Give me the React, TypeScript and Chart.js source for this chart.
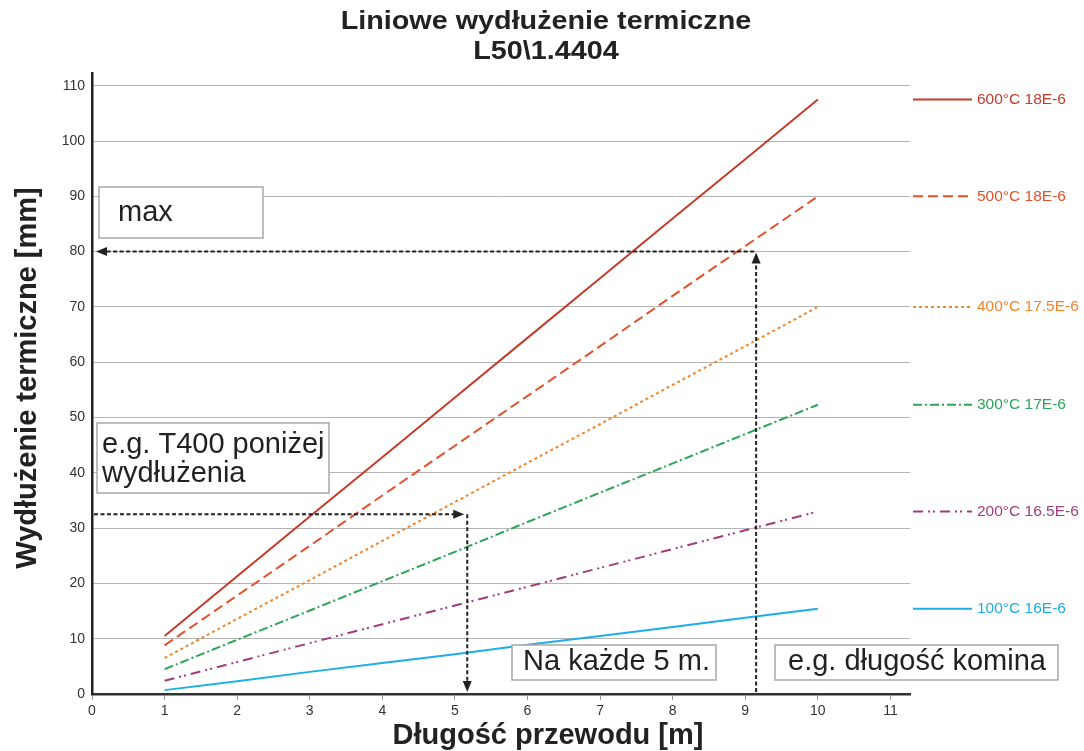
import React, { useEffect, useRef } from "react";
import { Chart, registerables } from "chart.js";

Chart.register(...registerables);

const titleLines = ["Liniowe wydłużenie termiczne", "L50\\1.4404"];
const xTitle = "Długość przewodu [m]";
const yTitle = "Wydłużenie termiczne [mm]";

const xTickValues = [0, 1, 2, 3, 4, 5, 6, 7, 8, 9, 10, 11];
const yTickValues = [0, 10, 20, 30, 40, 50, 60, 70, 80, 90, 100, 110];

const lengths = [1, 2, 3, 4, 5, 6, 7, 8, 9, 10];

const series600 = [10.5, 21.3, 32.1, 42.8, 53.6, 64.4, 75.2, 86.0, 96.7, 107.5];
const series500 = [8.8, 17.8, 26.8, 35.9, 44.9, 53.9, 62.9, 72.0, 81.0, 90.0];
const series400 = [6.5, 13.6, 20.6, 27.7, 34.7, 41.8, 48.8, 55.9, 62.9, 70.0];
const series300 = [4.5, 9.8, 15.1, 20.4, 25.7, 31.1, 36.4, 41.7, 47.0, 52.3];
const series200 = [2.4, 5.8, 9.2, 12.6, 16.0, 19.4, 22.8, 26.2, 29.6, 33.0];
const series100 = [0.7, 2.3, 4.0, 5.6, 7.2, 8.9, 10.5, 12.1, 13.8, 15.4];

const seriesLabels = [
  "600°C 18E-6",
  "500°C 18E-6",
  "400°C 17.5E-6",
  "300°C 17E-6",
  "200°C 16.5E-6",
  "100°C 16E-6",
];
const seriesValues = [series600, series500, series400, series300, series200, series100];
const seriesColors = ["#c43b2a", "#e2512b", "#f0862c", "#2ea456", "#a23d7c", "#1eaee6"];
const seriesDashes: number[][] = [[], [10, 5], [3, 3], [9, 3, 2, 3], [10, 5, 2, 3, 2, 5], []];

// annotation values (data units)
const maxValue = 80;
const maxLength = 9.15;
const exampleValue = 32.5;
const exampleLength = 5.17;

const boxes = [
  { x: 99, y: 187, w: 164, h: 51, lines: ["max"], tx: 118, ty: [213] },
  { x: 97, y: 423, w: 232, h: 70, lines: ["e.g. T400 poniżej", "wydłużenia"], tx: 102, ty: [445, 474] },
  { x: 512, y: 645, w: 204, h: 35, lines: ["Na każde 5 m."], tx: 523, ty: [662] },
  { x: 775, y: 645, w: 283, h: 35, lines: ["e.g. długość komina"], tx: 788, ty: [662] },
];

const FONT = '"Liberation Sans", Arial, sans-serif';

function arrowHead(ctx: CanvasRenderingContext2D, tx: number, ty: number, dx: number, dy: number) {
  const len = 11;
  const half = 4.5;
  const bx = tx - dx * len;
  const by = ty - dy * len;
  ctx.beginPath();
  ctx.moveTo(tx, ty);
  ctx.lineTo(bx - dy * half, by + dx * half);
  ctx.lineTo(bx + dy * half, by - dx * half);
  ctx.closePath();
  ctx.fill();
}

function dashedArrow(ctx: CanvasRenderingContext2D, x0: number, y0: number, x1: number, y1: number) {
  const d = Math.hypot(x1 - x0, y1 - y0);
  const dx = (x1 - x0) / d;
  const dy = (y1 - y0) / d;
  ctx.save();
  ctx.strokeStyle = "#222";
  ctx.fillStyle = "#222";
  ctx.lineWidth = 2;
  ctx.setLineDash([4, 2.5]);
  ctx.beginPath();
  ctx.moveTo(x0, y0);
  ctx.lineTo(x1 - dx * 8, y1 - dy * 8);
  ctx.stroke();
  ctx.setLineDash([]);
  arrowHead(ctx, x1, y1, dx, dy);
  ctx.restore();
}

function wideText(ctx: CanvasRenderingContext2D, text: string, cx: number, cy: number, sx: number) {
  ctx.save();
  ctx.translate(cx, cy);
  ctx.scale(sx, 1);
  ctx.fillText(text, 0, 0);
  ctx.restore();
}

const overlayPlugin = {
  id: "overlay",
  afterDatasetsDraw(chart: any) {
    const { ctx, scales } = chart;
    const x = scales.x;
    const y = scales.y;
    const left = chart.chartArea.left;
    const bottom = chart.chartArea.bottom;

    const mx = x.getPixelForValue(maxLength);
    const my = y.getPixelForValue(maxValue);
    dashedArrow(ctx, mx, bottom - 2, mx, my + 1);
    dashedArrow(ctx, mx - 2, my, left + 4, my);

    const ex = x.getPixelForValue(exampleLength);
    const ey = y.getPixelForValue(exampleValue);
    dashedArrow(ctx, left + 2, ey, ex - 3, ey);
    dashedArrow(ctx, ex, ey, ex, bottom - 2);

    ctx.save();
    for (const b of boxes) {
      ctx.fillStyle = "#ffffff";
      ctx.fillRect(b.x, b.y, b.w, b.h);
      ctx.strokeStyle = "#a8a8a8";
      ctx.lineWidth = 1.5;
      ctx.strokeRect(b.x, b.y, b.w, b.h);
      ctx.fillStyle = "#222";
      ctx.font = `29px ${FONT}`;
      ctx.textBaseline = "middle";
      ctx.textAlign = "left";
      b.lines.forEach((t, i) => ctx.fillText(t, b.tx, b.ty[i]));
    }
    ctx.restore();
  },
  afterDraw(chart: any) {
    const { ctx, scales } = chart;
    const y = scales.y;
    ctx.save();
    ctx.fillStyle = "#222";
    ctx.textAlign = "center";
    ctx.textBaseline = "middle";
    ctx.font = `bold 25px ${FONT}`;
    wideText(ctx, titleLines[0], 546, 22, 1.15);
    wideText(ctx, titleLines[1], 546, 52, 1.15);

    ctx.font = `bold 29px ${FONT}`;
    ctx.fillText(xTitle, 548, 736);
    ctx.save();
    ctx.translate(28, 378);
    ctx.rotate(-Math.PI / 2);
    ctx.fillText(yTitle, 0, 0);
    ctx.restore();

    seriesLabels.forEach((label, i) => {
      const vals = seriesValues[i];
      const py = y.getPixelForValue(vals[vals.length - 1]);
      ctx.strokeStyle = seriesColors[i];
      ctx.lineWidth = 2;
      ctx.setLineDash(seriesDashes[i]);
      ctx.beginPath();
      ctx.moveTo(913, py);
      ctx.lineTo(972, py);
      ctx.stroke();
      ctx.setLineDash([]);
      ctx.fillStyle = seriesColors[i];
      ctx.textAlign = "left";
      ctx.font = `15.5px ${FONT}`;
      ctx.fillText(label, 977, py);
    });
    ctx.restore();
  },
};

export default function App() {
  const canvasRef = useRef<HTMLCanvasElement | null>(null);

  useEffect(() => {
    if (!canvasRef.current) return;
    const chart = new Chart(canvasRef.current, {
      type: "line",
      data: {
        datasets: seriesLabels.map((label, i) => ({
          label,
          data: lengths.map((l, j) => ({ x: l, y: seriesValues[i][j] })),
          borderColor: seriesColors[i],
          backgroundColor: seriesColors[i],
          borderWidth: 2,
          borderDash: seriesDashes[i],
          pointRadius: 0,
          tension: 0,
          fill: false,
        })),
      },
      options: {
        animation: false,
        responsive: false,
        devicePixelRatio: 1,
        layout: { padding: { top: 73, right: 174, left: 0, bottom: 0 } },
        plugins: {
          legend: { display: false },
          title: { display: false },
          tooltip: { enabled: false },
        },
        scales: {
          x: {
            type: "linear",
            min: 0,
            max: 11.27,
            afterFit: (s: any) => {
              s.height = 57;
            },
            afterBuildTicks: (s: any) => {
              s.ticks = xTickValues.map((v) => ({ value: v }));
            },
            ticks: {
              stepSize: 1,
              padding: 3,
              color: "#333",
              font: { family: FONT, size: 14 },
            },
            grid: {
              display: true,
              drawOnChartArea: false,
              drawTicks: true,
              tickLength: 6,
              color: "#9a9a9a",
            },
            border: { display: true, color: "#333", width: 2.5 },
          },
          y: {
            type: "linear",
            min: 0,
            max: 112.3,
            afterFit: (s: any) => {
              s.width = 92;
            },
            afterBuildTicks: (s: any) => {
              s.ticks = yTickValues.map((v) => ({ value: v }));
            },
            ticks: {
              stepSize: 10,
              padding: 7,
              color: "#333",
              font: { family: FONT, size: 14 },
            },
            grid: {
              display: true,
              drawTicks: false,
              color: "#b4b4b4",
              lineWidth: 1,
            },
            border: { display: true, color: "#222", width: 2.5 },
          },
        },
      },
      plugins: [overlayPlugin],
    });
    return () => chart.destroy();
  }, []);

  return (
    <div style={{ position: "absolute", left: 0, top: 0, width: 1084, height: 751, background: "#fff" }}>
      <canvas ref={canvasRef} width={1084} height={751} />
    </div>
  );
}
